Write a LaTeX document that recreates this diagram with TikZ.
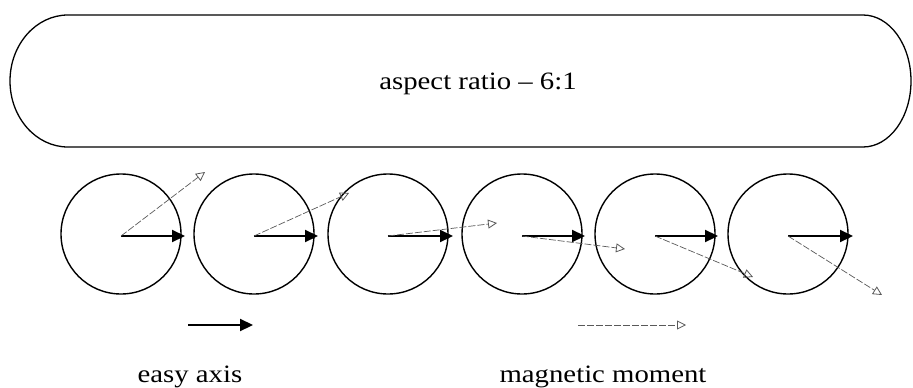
\documentclass[tikz,border=0pt]{standalone}
\usepackage{fontspec}
\setmainfont{Liberation Serif}[FakeStretch=1.15]
\usetikzlibrary{arrows.meta}
\tikzset{
  ring/.style={circle, draw=black, line width=1.4pt, minimum size=120pt, inner sep=0pt},
  easyarrow/.style={line width=2.2pt, -{Triangle[length=13pt,width=12pt]}},
  momarrow/.style={gray!70!black, line width=0.7pt, dash pattern=on 7pt off 2pt, -{Triangle[open,length=9pt,width=9pt,line width=0.8pt]}},
  lbl/.style={font=\fontsize{25}{30}\selectfont, inner sep=0pt, anchor=base}
}
\begin{document}
\begin{tikzpicture}[x=1pt,y=-1pt]
\useasboundingbox (0,0) rectangle (913,388);
% elongated particle outline
\draw[line width=1.3pt] (68,15) -- (863,15)
  arc[start angle=-90, end angle=90, x radius=48, y radius=66]
  -- (68,147)
  arc[start angle=90, end angle=270, x radius=58, y radius=66] -- cycle;
\node[lbl] (ratio) at (478,89) {aspect ratio -- 6:1};
% chain of spheres
\foreach \i/\x in {1/121,2/254,3/388,4/522,5/655,6/788}{
  \node[ring] (c\i) at (\x,234) {};
}
% easy axis arrows
\foreach \i/\x/\t in {1/121/185,2/254/318,3/388/453,4/522/585,5/655/718,6/788/853}{
  \coordinate (o\i) at (\x,236);
  \coordinate (e\i) at (\t,236);
  \draw[easyarrow] (o\i) -- (e\i);
}
% magnetic moment arrows
\foreach \i/\tx/\ty in {1/205/172,2/349/193,3/497/223,4/625/249,5/753/277,6/882/295}{
  \coordinate (m\i) at (\tx,\ty);
  \draw[momarrow] (o\i) -- (m\i);
}
% legend
\coordinate (la0) at (188,325);
\coordinate (la1) at (253,325);
\draw[easyarrow] (la0) -- (la1);
\coordinate (lb0) at (578,325);
\coordinate (lb1) at (686,325);
\draw[momarrow] (lb0) -- (lb1);
\node[lbl] (easy) at (190,382) {easy axis};
\node[lbl] (mom) at (603,382) {magnetic moment};
\end{tikzpicture}
\end{document}
